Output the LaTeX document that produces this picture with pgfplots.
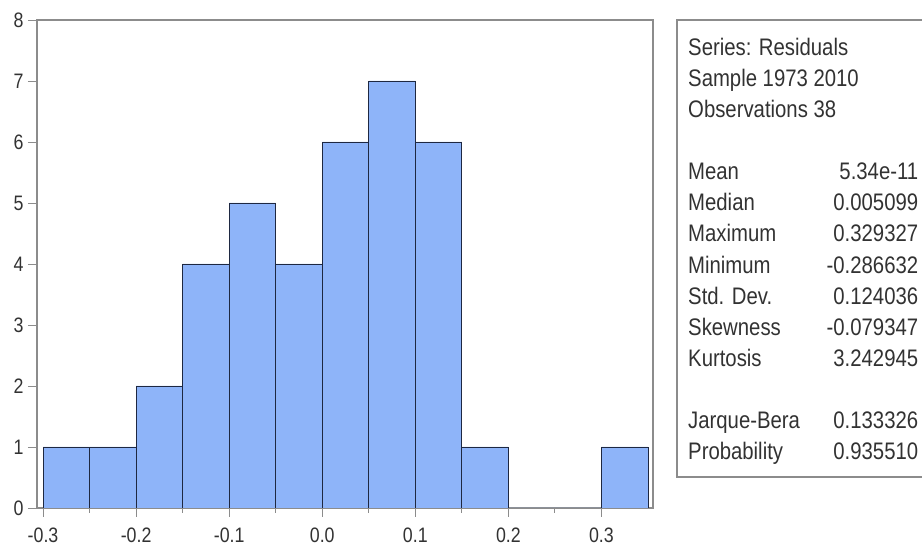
\documentclass[border=0pt]{standalone}
\usepackage{pgfplots}
\pgfplotsset{compat=1.18}
\usepackage{fontspec}
\setmainfont{Liberation Sans}
\newfontfamily\narrow{Liberation Sans}[FakeStretch=0.85]
\definecolor{barfill}{RGB}{142,180,249}
\definecolor{baredge}{RGB}{30,40,65}
\definecolor{axgray}{RGB}{140,140,140}
\definecolor{txt}{RGB}{50,50,50}
\begin{document}
\begin{tikzpicture}[x=1bp,y=1bp]
\useasboundingbox (-37,-43) rectangle (885,508);
\begin{axis}[
  at={(0,0)}, anchor=south west,
  scale only axis, width=616bp, height=488bp,
  xmin=-0.3065, xmax=0.3554, ymin=0, ymax=8,
  axis line style={axgray, line width=1.4pt},
  tick style={axgray, line width=0.9pt},
  tick align=outside,
  major tick length=9bp, minor tick length=5bp,
  xtick pos=bottom, ytick pos=left,
  xtick={-0.3,-0.2,-0.1,0,0.1,0.2,0.3},
  xticklabels={-0.3,-0.2,-0.1,0.0,0.1,0.2,0.3},
  minor xtick={-0.25,-0.15,-0.05,0.05,0.15,0.25},
  ytick={0,1,...,8},
  yticklabels={0,1,2,3,4,5,6,7,8},
  ticklabel style={font=\narrow\fontsize{21}{21}\selectfont, text=txt},
  xticklabel style={yshift=-7bp},
  yticklabel style={xshift=-1bp},
]
\addplot[ybar interval, fill=barfill, draw=baredge, line width=0.8pt]
coordinates {
(-0.30,1) (-0.25,1) (-0.20,2) (-0.15,4) (-0.10,5) (-0.05,4)
(0.00,6) (0.05,7) (0.10,6) (0.15,1) (0.20,0) (0.25,0) (0.30,1) (0.35,1)
};
\end{axis}
\draw[axgray, line width=1.5pt] (640,31) rectangle (900,488);
\node[anchor=base west, inner sep=0pt, text=txt] at (651,452.5) {%
\narrow\fontsize{24}{31.2}\selectfont
\begin{tabular*}{230bp}[t]{@{}l@{\extracolsep{\fill}}r@{}}
\multicolumn{2}{@{}l@{}}{Series: Residuals}\\
\multicolumn{2}{@{}l@{}}{Sample 1973 2010}\\
\multicolumn{2}{@{}l@{}}{Observations 38}\\
 & \\
Mean & 5.34e-11\\
Median & 0.005099\\
Maximum & 0.329327\\
Minimum & -0.286632\\
Std. Dev. & 0.124036\\
Skewness & -0.079347\\
Kurtosis & 3.242945\\
 & \\
Jarque-Bera & 0.133326\\
Probability & 0.935510
\end{tabular*}};
\end{tikzpicture}
\end{document}
